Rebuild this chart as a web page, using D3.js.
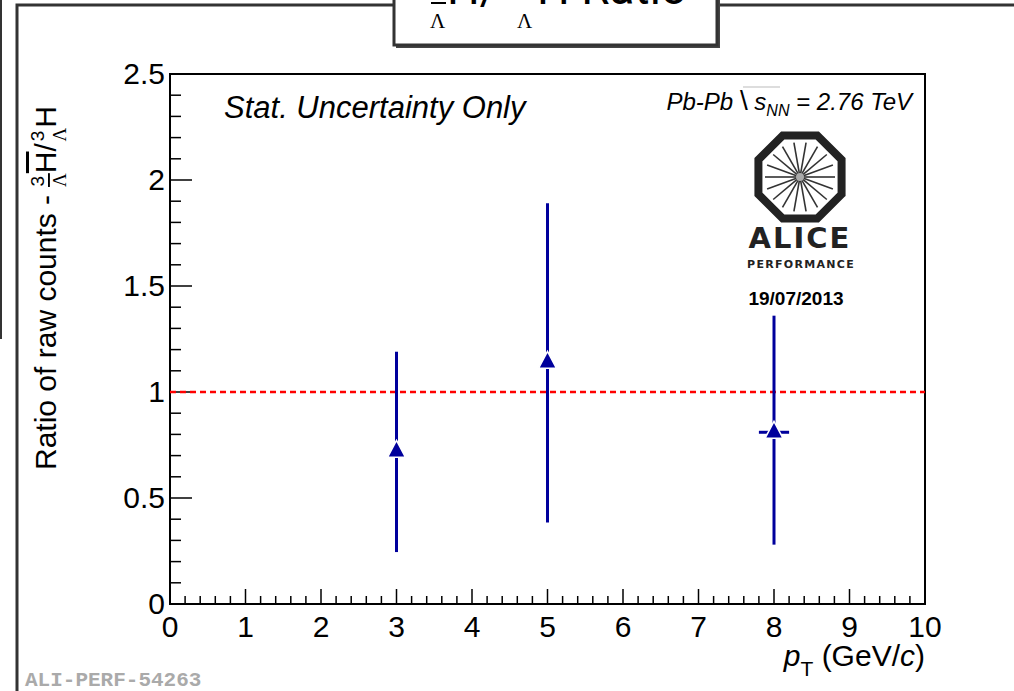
<!DOCTYPE html>
<html>
<head>
<meta charset="utf-8">
<script src="https://cdn.jsdelivr.net/npm/d3@7"></script>
<style>
  body { margin: 0; background: #fff; }
  svg { display: block; }
</style>
</head>
<body>
<script>
// chart values
var ptBins   = [3, 5, 8];
var ratio    = [0.72, 1.14, 0.81];
var errUp    = [0.47, 0.75, 0.55];
var errDown  = [0.475, 0.755, 0.53];
var ptErr    = [0, 0, 0.2];
var xTicks   = [0, 1, 2, 3, 4, 5, 6, 7, 8, 9, 10];
var yTicks   = [0, 0.5, 1, 1.5, 2, 2.5];

var W = 1014, H = 691;
var SANS = "'Liberation Sans', Arial, Helvetica, sans-serif";
var svg = d3.select("body").append("svg").attr("width", W).attr("height", H)
  .attr("font-family", SANS);

var x = d3.scaleLinear().domain([0, 10]).range([170, 925]);
var y = d3.scaleLinear().domain([0, 2.5]).range([604, 74]);

// canvas frames
svg.append("line").attr("x1", 1).attr("x2", 1).attr("y1", 0).attr("y2", 339)
  .attr("stroke", "#333").attr("stroke-width", 2);
svg.append("path").attr("d", "M17,691 V5 H1014")
  .attr("fill", "none").attr("stroke", "#333").attr("stroke-width", 3);

// title box (cut off at top)
svg.append("rect").attr("x", 396).attr("y", -10).attr("width", 324).attr("height", 58)
  .attr("fill", "#444");
svg.append("rect").attr("x", 394).attr("y", -10).attr("width", 323).attr("height", 55)
  .attr("fill", "#fff").attr("stroke", "#333").attr("stroke-width", 3);
var tt = svg.append("g").attr("font-size", 46);
tt.append("text").attr("x", 430).attr("y", 28).attr("font-family", "'Liberation Serif', serif")
  .attr("font-size", 21).text("Λ");
tt.append("line").attr("x1", 431).attr("x2", 446).attr("y1", 3).attr("y2", 3)
  .attr("stroke", "#000").attr("stroke-width", 2);
tt.append("text").attr("x", 447).attr("y", 4).attr("font-family", "Roboto, " + SANS).text("H/");
tt.append("text").attr("x", 517).attr("y", 28).attr("font-family", "'Liberation Serif', serif")
  .attr("font-size", 21).text("Λ");
tt.append("text").attr("x", 537).attr("y", 4).attr("font-family", "Roboto, " + SANS).text("H Ratio");

// axes frame
svg.append("rect").attr("x", x(0)).attr("y", y(2.5))
  .attr("width", x(10) - x(0)).attr("height", y(0) - y(2.5))
  .attr("fill", "none").attr("stroke", "#000").attr("stroke-width", 2);

// x ticks
var xMinor = d3.range(0, 10.001, 0.2);
svg.append("g").selectAll("line").data(xMinor).join("line")
  .attr("x1", d => x(d)).attr("x2", d => x(d))
  .attr("y1", y(0))
  .attr("y2", d => Math.abs(d - Math.round(d)) < 1e-6 ? y(0) - 15 : y(0) - 8)
  .attr("stroke", "#000").attr("stroke-width", 1.5);
svg.append("g").selectAll("text").data(xTicks).join("text")
  .attr("x", d => x(d)).attr("y", 637)
  .attr("text-anchor", "middle").attr("font-size", 30).text(d => d);

// y ticks
var yMinor = d3.range(0, 2.5001, 0.1);
svg.append("g").selectAll("line").data(yMinor).join("line")
  .attr("x1", x(0))
  .attr("x2", d => Math.abs(d * 2 - Math.round(d * 2)) < 1e-6 ? x(0) + 22 : x(0) + 11)
  .attr("y1", d => y(d)).attr("y2", d => y(d))
  .attr("stroke", "#000").attr("stroke-width", 1.5);
svg.append("g").selectAll("text").data(yTicks).join("text")
  .attr("x", 165).attr("y", d => y(d) + 10)
  .attr("text-anchor", "end").attr("font-size", 30).text(d => d);

// x title
var xt = svg.append("text").attr("x", 925).attr("y", 666).attr("text-anchor", "end").attr("font-size", 30);
xt.append("tspan").attr("font-style", "italic").text("p");
xt.append("tspan").attr("font-size", 21).attr("dy", 10).text("T");
xt.append("tspan").attr("dy", -10).text(" (GeV/");
xt.append("tspan").attr("font-style", "italic").text("c");
xt.append("tspan").text(")");

// y title
var yt = svg.append("text").attr("transform", "translate(56,470) rotate(-90)").attr("font-size", 30);
yt.append("tspan").text("Ratio of raw counts - ");
yt.append("tspan").attr("font-size", 19).attr("dy", -12).text("3");
yt.append("tspan").attr("font-size", 19).attr("dx", -11).attr("dy", 22)
  .attr("font-family", "'Liberation Serif', serif").attr("text-decoration", "overline").text("Λ");
yt.append("tspan").attr("dy", -10).attr("text-decoration", "overline").text("H");
yt.append("tspan").text("/");
yt.append("tspan").attr("font-size", 19).attr("dy", -12).attr("dx", 2).text("3");
yt.append("tspan").attr("font-size", 19).attr("dx", -11).attr("dy", 22)
  .attr("font-family", "'Liberation Serif', serif").text("Λ");
yt.append("tspan").attr("dy", -10).text("H");

// reference line at 1
svg.append("line").attr("x1", x(0)).attr("x2", x(10)).attr("y1", y(1)).attr("y2", y(1))
  .attr("stroke", "#f00").attr("stroke-width", 2.5).attr("stroke-dasharray", "6,4");

// data points
var pts = ptBins.map((p, i) => ({ p: p, v: ratio[i], up: errUp[i], dn: errDown[i], ex: ptErr[i] }));
var blue = "#00009c";
var g = svg.append("g");
g.selectAll("line.ey").data(pts).join("line").attr("class", "ey")
  .attr("x1", d => x(d.p)).attr("x2", d => x(d.p))
  .attr("y1", d => y(d.v + d.up)).attr("y2", d => y(d.v - d.dn))
  .attr("stroke", blue).attr("stroke-width", 3);
g.selectAll("line.ex").data(pts.filter(d => d.ex > 0)).join("line").attr("class", "ex")
  .attr("x1", d => x(d.p - d.ex)).attr("x2", d => x(d.p + d.ex))
  .attr("y1", d => y(d.v)).attr("y2", d => y(d.v))
  .attr("stroke", blue).attr("stroke-width", 3);
g.selectAll("path").data(pts).join("path")
  .attr("d", d => {
    var cx = x(d.p), cy = y(d.v);
    return "M" + cx + "," + (cy - 11) + " L" + (cx + 9) + "," + (cy + 6) + " L" + (cx - 9) + "," + (cy + 6) + "Z";
  })
  .attr("fill", blue).attr("stroke", "#fff").attr("stroke-width", 1.5);

// texts
svg.append("text").attr("x", 224).attr("y", 118).attr("font-size", 31)
  .attr("font-style", "italic").text("Stat. Uncertainty Only");
var en = svg.append("text").attr("x", 912).attr("y", 110).attr("text-anchor", "end")
  .attr("font-size", 24).attr("font-style", "italic");
en.append("tspan").text("Pb-Pb ");
en.append("tspan").attr("font-style", "normal").attr("font-size", 28).text("\\");
en.append("tspan").text(" s");
en.append("tspan").attr("font-size", 16).attr("dy", 6).text("NN");
en.append("tspan").attr("dy", -6).text(" = 2.76 TeV");
svg.append("line").attr("x1", 743).attr("x2", 780).attr("y1", 87).attr("y2", 87)
  .attr("stroke", "#bbb").attr("stroke-width", 1);

// ALICE logo
var lg = svg.append("g").attr("transform", "translate(800,177)");
var oct = d3.range(8).map(i => {
  var a = Math.PI / 8 + i * Math.PI / 4;
  return [45 * Math.cos(a), 45 * Math.sin(a)];
});
lg.append("polygon").attr("points", oct.map(p => p.join(",")).join(" "))
  .attr("fill", "#fff").attr("stroke", "#222").attr("stroke-width", 8);
lg.selectAll("line").data(d3.range(18)).join("line")
  .attr("x1", d => 3 * Math.cos(d * Math.PI / 9)).attr("y1", d => 3 * Math.sin(d * Math.PI / 9))
  .attr("x2", d => 35 * Math.cos(d * Math.PI / 9)).attr("y2", d => 35 * Math.sin(d * Math.PI / 9))
  .attr("stroke", "#333").attr("stroke-width", 1.6);
lg.append("circle").attr("r", 4).attr("fill", "#aaa");
svg.append("text").attr("x", 800).attr("y", 248).attr("text-anchor", "middle")
  .attr("font-family", "'DejaVu Sans', sans-serif").attr("font-weight", "bold").attr("font-size", 29)
  .attr("letter-spacing", 2).attr("fill", "#222").text("ALICE");
svg.append("text").attr("x", 801).attr("y", 268).attr("text-anchor", "middle")
  .attr("font-family", "'DejaVu Sans', sans-serif").attr("font-weight", "bold").attr("font-size", 11)
  .attr("letter-spacing", 1.3).attr("fill", "#222").text("PERFORMANCE");
svg.append("text").attr("x", 796).attr("y", 305).attr("text-anchor", "middle")
  .attr("font-weight", "bold").attr("font-size", 19).text("19/07/2013");

// preliminary id
svg.append("text").attr("x", 25).attr("y", 686).attr("font-family", "'Liberation Mono', monospace")
  .attr("font-weight", "bold").attr("font-size", 21).attr("fill", "#aaa").text("ALI-PERF-54263");
</script>
</body>
</html>
